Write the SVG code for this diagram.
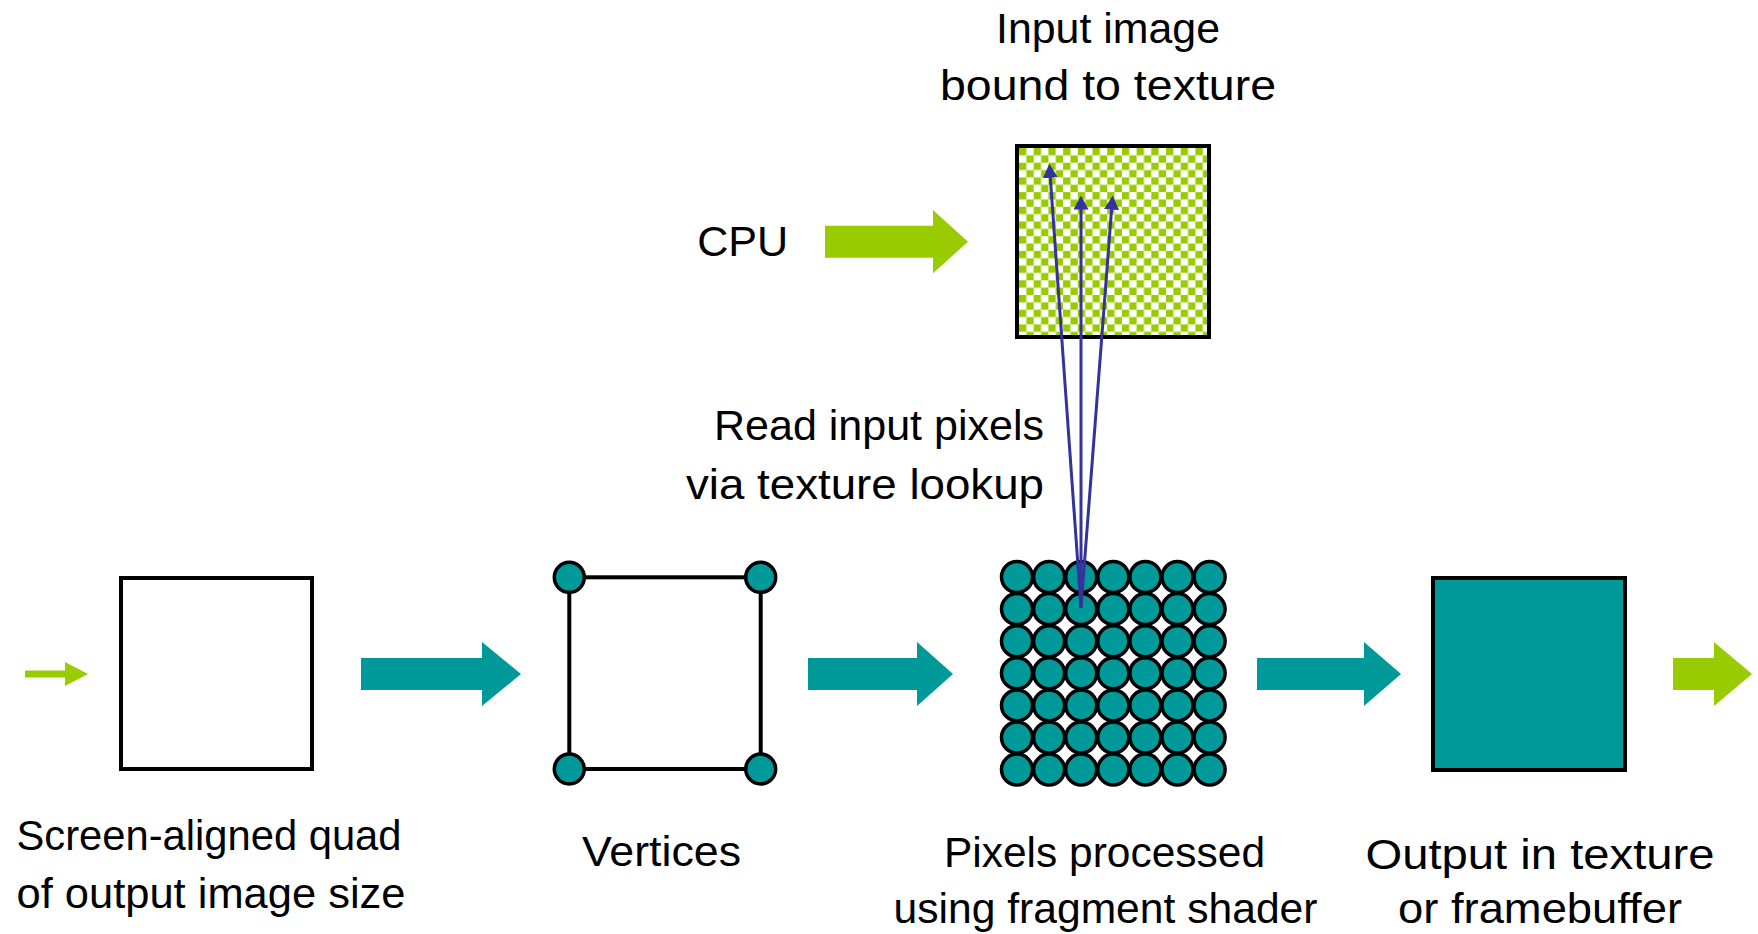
<svg xmlns="http://www.w3.org/2000/svg" width="1758" height="934" viewBox="0 0 1758 934">
<style>
.t{font-family:"Liberation Sans",Arial,sans-serif;font-size:42px;fill:#000}
.box{fill:none;stroke:#000;stroke-width:4}
.teal{fill:#009999}
.green{fill:#99CC00}
.px{fill:#009999;stroke:#000;stroke-width:3.5}
.blue{stroke:#333399;stroke-width:3;fill:none}
</style>
<defs>
<pattern id="chk" patternUnits="userSpaceOnUse" x="1019" y="148" width="14.7" height="14.7">
<rect width="14.7" height="14.7" fill="#fff"/>
<rect width="7.35" height="7.35" fill="#99CC00"/>
<rect x="7.35" y="7.35" width="7.35" height="7.35" fill="#99CC00"/>
</pattern>
<marker id="ah" markerUnits="userSpaceOnUse" viewBox="0 -7.5 14 15" markerWidth="14" markerHeight="15" refX="0.5" refY="0" orient="auto">
<path d="M0,-7.5 L14,0 L0,7.5 z" fill="#333399"/>
</marker>
</defs>
<rect width="1758" height="934" fill="#fff"/>

<g id="texture">
<rect x="1017" y="146" width="192" height="191" fill="url(#chk)"/>
<rect class="box" x="1017" y="146" width="192" height="191"/>
<text class="t" x="1108" y="43" text-anchor="middle" textLength="224" lengthAdjust="spacingAndGlyphs">Input image</text>
<text class="t" x="1108" y="100" text-anchor="middle" textLength="336" lengthAdjust="spacingAndGlyphs">bound to texture</text>
</g>

<g id="cpu">
<text class="t" x="742.7" y="256" text-anchor="middle" textLength="91" lengthAdjust="spacingAndGlyphs">CPU</text>
</g>

<g id="quad">
<rect class="box" x="121" y="578" width="191" height="191"/>
<text class="t" x="209" y="850" text-anchor="middle" textLength="385" lengthAdjust="spacingAndGlyphs">Screen-aligned quad</text>
<text class="t" x="211" y="908" text-anchor="middle" textLength="389" lengthAdjust="spacingAndGlyphs">of output image size</text>
</g>

<g id="vertices">
<rect class="box" x="569.3" y="577.3" width="191.4" height="191.7"/>
<circle class="px" cx="569.3" cy="577.3" r="15"/>
<circle class="px" cx="760.7" cy="577.3" r="15"/>
<circle class="px" cx="569.3" cy="769" r="15"/>
<circle class="px" cx="760.7" cy="769" r="15"/>
<text class="t" x="661.5" y="866" text-anchor="middle" textLength="159" lengthAdjust="spacingAndGlyphs">Vertices</text>
</g>

<g id="pixels">
<g id="grid">
<circle class="px" cx="1017" cy="577" r="15.5"/><circle class="px" cx="1049.1" cy="577" r="15.5"/><circle class="px" cx="1081.2" cy="577" r="15.5"/><circle class="px" cx="1113.3" cy="577" r="15.5"/><circle class="px" cx="1145.4" cy="577" r="15.5"/><circle class="px" cx="1177.5" cy="577" r="15.5"/><circle class="px" cx="1209.6" cy="577" r="15.5"/>
<circle class="px" cx="1017" cy="609.1" r="15.5"/><circle class="px" cx="1049.1" cy="609.1" r="15.5"/><circle class="px" cx="1081.2" cy="609.1" r="15.5"/><circle class="px" cx="1113.3" cy="609.1" r="15.5"/><circle class="px" cx="1145.4" cy="609.1" r="15.5"/><circle class="px" cx="1177.5" cy="609.1" r="15.5"/><circle class="px" cx="1209.6" cy="609.1" r="15.5"/>
<circle class="px" cx="1017" cy="641.2" r="15.5"/><circle class="px" cx="1049.1" cy="641.2" r="15.5"/><circle class="px" cx="1081.2" cy="641.2" r="15.5"/><circle class="px" cx="1113.3" cy="641.2" r="15.5"/><circle class="px" cx="1145.4" cy="641.2" r="15.5"/><circle class="px" cx="1177.5" cy="641.2" r="15.5"/><circle class="px" cx="1209.6" cy="641.2" r="15.5"/>
<circle class="px" cx="1017" cy="673.3" r="15.5"/><circle class="px" cx="1049.1" cy="673.3" r="15.5"/><circle class="px" cx="1081.2" cy="673.3" r="15.5"/><circle class="px" cx="1113.3" cy="673.3" r="15.5"/><circle class="px" cx="1145.4" cy="673.3" r="15.5"/><circle class="px" cx="1177.5" cy="673.3" r="15.5"/><circle class="px" cx="1209.6" cy="673.3" r="15.5"/>
<circle class="px" cx="1017" cy="705.4" r="15.5"/><circle class="px" cx="1049.1" cy="705.4" r="15.5"/><circle class="px" cx="1081.2" cy="705.4" r="15.5"/><circle class="px" cx="1113.3" cy="705.4" r="15.5"/><circle class="px" cx="1145.4" cy="705.4" r="15.5"/><circle class="px" cx="1177.5" cy="705.4" r="15.5"/><circle class="px" cx="1209.6" cy="705.4" r="15.5"/>
<circle class="px" cx="1017" cy="737.5" r="15.5"/><circle class="px" cx="1049.1" cy="737.5" r="15.5"/><circle class="px" cx="1081.2" cy="737.5" r="15.5"/><circle class="px" cx="1113.3" cy="737.5" r="15.5"/><circle class="px" cx="1145.4" cy="737.5" r="15.5"/><circle class="px" cx="1177.5" cy="737.5" r="15.5"/><circle class="px" cx="1209.6" cy="737.5" r="15.5"/>
<circle class="px" cx="1017" cy="769.6" r="15.5"/><circle class="px" cx="1049.1" cy="769.6" r="15.5"/><circle class="px" cx="1081.2" cy="769.6" r="15.5"/><circle class="px" cx="1113.3" cy="769.6" r="15.5"/><circle class="px" cx="1145.4" cy="769.6" r="15.5"/><circle class="px" cx="1177.5" cy="769.6" r="15.5"/><circle class="px" cx="1209.6" cy="769.6" r="15.5"/>
</g>
<text class="t" x="1104.5" y="867" text-anchor="middle" textLength="321" lengthAdjust="spacingAndGlyphs">Pixels processed</text>
<text class="t" x="1105.5" y="923" text-anchor="middle" textLength="424" lengthAdjust="spacingAndGlyphs">using fragment shader</text>
</g>

<g id="output">
<rect x="1433" y="578" width="192" height="192" fill="#009999" stroke="#000" stroke-width="4"/>
<text class="t" x="1540" y="869" text-anchor="middle" textLength="349" lengthAdjust="spacingAndGlyphs">Output in texture</text>
<text class="t" x="1540" y="923" text-anchor="middle" textLength="284" lengthAdjust="spacingAndGlyphs">or framebuffer</text>
</g>

<g id="connectors">
<polygon class="green" points="25,670.5 65,670.5 65,662 88,674 65,686 65,677.5 25,677.5"/>
<polygon class="teal" points="361,658 482,658 482,642 521,674 482,706 482,690 361,690"/>
<polygon class="teal" points="808,658 917,658 917,642 953,674 917,706 917,690 808,690"/>
<polygon class="teal" points="1257,658 1364,658 1364,642 1401,674 1364,706 1364,690 1257,690"/>
<polygon class="green" points="1673,658 1714,658 1714,642 1752,674 1714,706 1714,690 1673,690"/>
<polygon class="green" points="825,225.7 933,225.7 933,210 968,241.7 933,273.3 933,257.7 825,257.7"/>
<g id="lookup">
<line class="blue" x1="1081" y1="608" x2="1050.3" y2="177.3" marker-end="url(#ah)"/>
<line class="blue" x1="1081" y1="608" x2="1081" y2="209" marker-end="url(#ah)"/>
<line class="blue" x1="1081" y1="608" x2="1111.6" y2="209" marker-end="url(#ah)"/>
</g>
<text class="t" x="1044" y="440" text-anchor="end" textLength="330" lengthAdjust="spacingAndGlyphs">Read input pixels</text>
<text class="t" x="1044" y="499" text-anchor="end" textLength="358" lengthAdjust="spacingAndGlyphs">via texture lookup</text>
</g>
</svg>
